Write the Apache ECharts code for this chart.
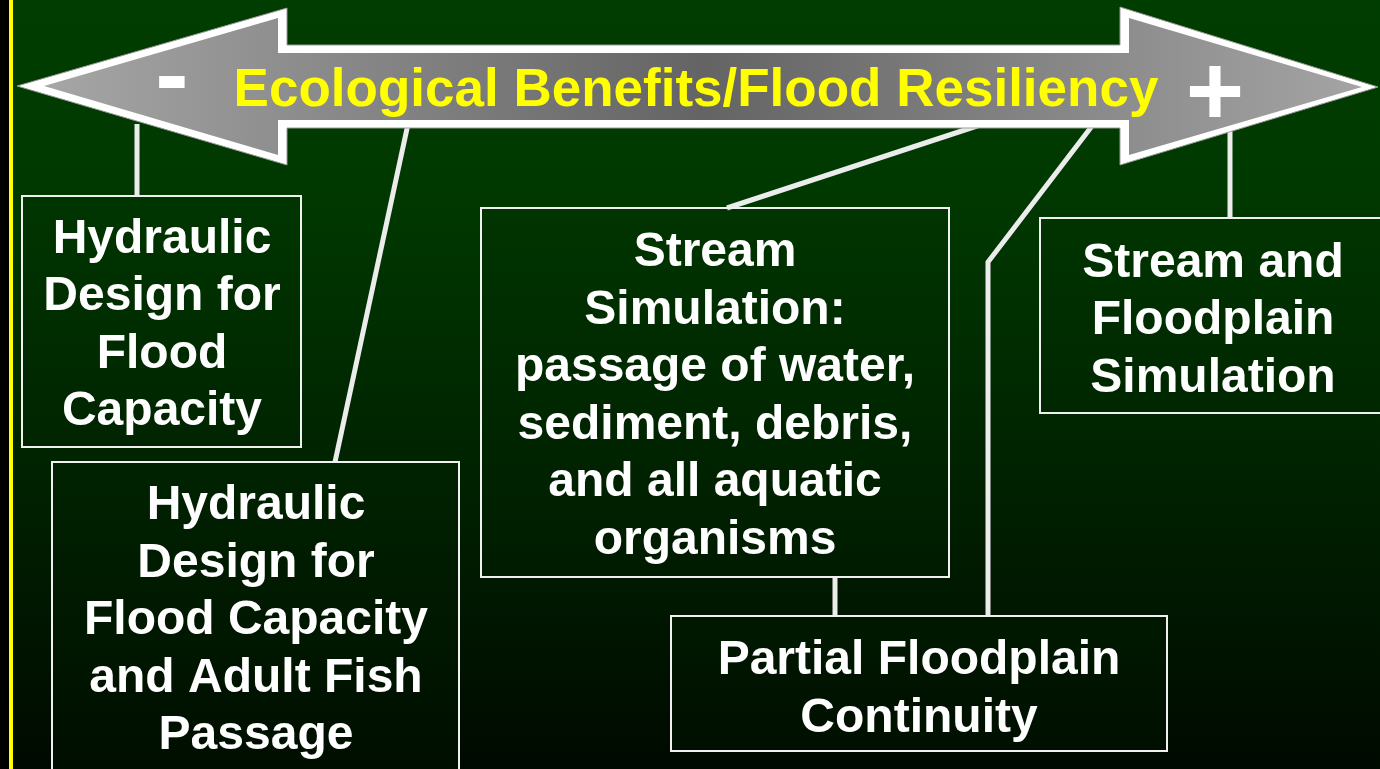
<!DOCTYPE html>
<html>
<head>
<meta charset="utf-8">
<script src="https://cdn.jsdelivr.net/npm/echarts@6/dist/echarts.min.js"></script>
<style>
  html, body { margin: 0; padding: 0; background: #000; }
  #Graph1 { width: 1380px; height: 769px; }
</style>
</head>
<body>
<div id="Graph1"></div>
<script>
// texts of the diagram
const scaleTitle = 'Ecological Benefits/Flood Resiliency';
const scaleSigns = ['-', '+'];
const boxTexts = [
    'Hydraulic\nDesign for\nFlood\nCapacity',
    'Hydraulic\nDesign for\nFlood Capacity\nand Adult Fish\nPassage',
    'Stream\nSimulation:\npassage of water,\nsediment, debris,\nand all aquatic\norganisms',
    'Partial Floodplain\nContinuity',
    'Stream and\nFloodplain\nSimulation'
];

// layout (slide units = pixels of the 1380x769 picture)
const boxLayout = [
    // x0, y0, x1, y1, text centre x, text centre y
    [22, 196, 301, 447, 162, 326],
    [52, 462, 459, 800, 256, 621],
    [481, 208, 949, 577, 715, 397],
    [671, 616, 1167, 751, 919, 690],
    [1040, 218, 1400, 413, 1213, 321]
];
const connectorPaths = [
    [[137, 124], [137, 197]],
    [[408, 124], [335, 462]],
    [[983, 124], [727, 208]],
    [[1092, 126], [988, 262], [988, 616]],
    [[835, 577], [835, 616]],
    [[1230, 130], [1230, 218]]
];
const arrowOuter = [[17, 86], [287, 8], [287, 45], [1120, 45], [1120, 7], [1378, 87],
    [1120, 165], [1120, 128], [287, 128], [287, 165]];
const arrowInner = [[44, 86], [278, 18], [278, 53], [1129, 53], [1129, 18], [1362, 87],
    [1129, 155], [1129, 120], [278, 120], [278, 155]];
const signPos = [[172, 80], [1215, 97]];
const titlePos = [696, 91];

const FONT = '"Liberation Sans", Arial, Helvetica, sans-serif';

var myChart = echarts.init(document.querySelector('#Graph1'));

function toPts(api, list) {
    return list.map(function (p) { return api.coord(p); });
}

var option = {
    animation: false,
    backgroundColor: new echarts.graphic.LinearGradient(0, 0, 0, 1, [
        { offset: 0, color: '#003d00' },
        { offset: 0.25, color: '#003900' },
        { offset: 1, color: '#000a00' }
    ]),
    grid: { left: 0, right: 0, top: 0, bottom: 0 },
    xAxis: { type: 'value', min: 0, max: 1380, show: false },
    yAxis: { type: 'value', min: 0, max: 769, inverse: true, show: false },
    // left edge strip
    graphic: [
        { type: 'rect', left: 0, top: 0, shape: { width: 9, height: 769 }, style: { fill: '#000' } },
        { type: 'rect', left: 9, top: 0, shape: { width: 4, height: 769 }, style: { fill: '#ffff00' } }
    ],
    series: [
        {
            // connector lines
            type: 'custom',
            coordinateSystem: 'cartesian2d',
            data: connectorPaths.map(function (p, i) { return [i]; }),
            renderItem: function (params, api) {
                var path = connectorPaths[api.value(0)];
                return {
                    type: 'polyline',
                    shape: { points: toPts(api, path) },
                    style: { stroke: '#ececec', lineWidth: 5, fill: null, lineJoin: 'miter' }
                };
            }
        },
        {
            // the double arrow
            type: 'custom',
            coordinateSystem: 'cartesian2d',
            data: [[0]],
            renderItem: function (params, api) {
                var c = api.coord(titlePos);
                var s0 = api.coord(signPos[0]);
                var s1 = api.coord(signPos[1]);
                return {
                    type: 'group',
                    children: [
                        { type: 'polygon', shape: { points: toPts(api, arrowOuter) },
                          style: { fill: '#ffffff', stroke: '#9a9a9a', lineWidth: 1 } },
                        { type: 'polygon', shape: { points: toPts(api, arrowInner) },
                          style: { fill: new echarts.graphic.LinearGradient(0, 0, 1, 0, [
                              { offset: 0, color: '#a6a6a6' },
                              { offset: 0.5, color: '#646464' },
                              { offset: 1, color: '#a4a4a4' }
                          ]) } },
                        { type: 'text', x: c[0], y: c[1],
                          style: { text: scaleTitle, fill: '#ffff00', font: 'bold 53px ' + FONT,
                                   align: 'center', verticalAlign: 'middle' } },
                        { type: 'text', x: s0[0], y: s0[1],
                          style: { text: scaleSigns[0], fill: '#ffffff', font: 'bold 100px ' + FONT,
                                   align: 'center', verticalAlign: 'middle' } },
                        { type: 'text', x: s1[0], y: s1[1],
                          style: { text: scaleSigns[1], fill: '#ffffff', font: 'bold 100px ' + FONT,
                                   align: 'center', verticalAlign: 'middle' } }
                    ]
                };
            }
        },
        {
            // the boxes
            type: 'custom',
            coordinateSystem: 'cartesian2d',
            data: boxTexts.map(function (t, i) { return [i]; }),
            renderItem: function (params, api) {
                var i = api.value(0);
                var b = boxLayout[i];
                var p0 = api.coord([b[0], b[1]]);
                var p1 = api.coord([b[2], b[3]]);
                var c = api.coord([b[4], b[5]]);
                return {
                    type: 'group',
                    children: [
                        { type: 'rect',
                          shape: { x: p0[0], y: p0[1], width: p1[0] - p0[0], height: p1[1] - p0[1] },
                          style: { fill: 'rgba(0,40,0,0.15)', stroke: '#f0f0f0', lineWidth: 2 } },
                        { type: 'text', x: c[0], y: c[1],
                          style: { text: boxTexts[i], fill: '#ffffff', font: 'bold 48px ' + FONT,
                                   align: 'center', verticalAlign: 'middle', lineHeight: 57.5 } }
                    ]
                };
            }
        }
    ]
};

myChart.setOption(option);
</script>
</body>
</html>
